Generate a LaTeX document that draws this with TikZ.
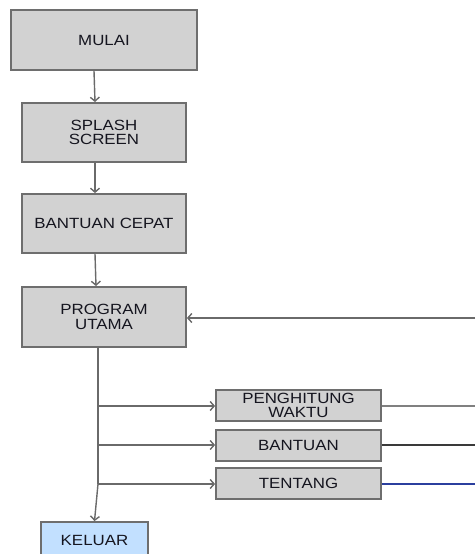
\documentclass[tikz,border=0pt]{standalone}
\usepackage{fontspec}
\setmainfont[FakeStretch=1.14]{Liberation Sans}
\usetikzlibrary{arrows.meta}
\definecolor{boxfill}{HTML}{D2D2D2}
\definecolor{boxline}{HTML}{6E6E6E}
\definecolor{conn}{HTML}{6A6A6A}
\definecolor{txt}{HTML}{15151F}
\definecolor{exitfill}{HTML}{C2E0FF}
\definecolor{darkln}{HTML}{3A3A3A}
\definecolor{blueln}{HTML}{2B3F9E}
\begin{document}
\begin{tikzpicture}[x=1pt,y=-1pt,
  box/.style={draw=boxline,fill=boxfill,line width=1.8pt,inner sep=0pt,align=center,
    text=txt,font=\fontsize{14.8}{14.5}\selectfont},
  conn/.style={draw=conn,line width=1.4pt},
  arr/.style={conn,-{Straight Barb[length=4pt,width=9pt]}}]
\useasboundingbox (0,0) rectangle (475,554);
\clip (0,0) rectangle (475,554);
\node[box,minimum width=186pt,minimum height=60pt] (mulai) at (104,40) {MULAI};
\node[box,minimum width=164pt,minimum height=59pt] (splash) at (104,132.5) {SPLASH\\SCREEN};
\node[box,minimum width=164pt,minimum height=59pt] (cepat) at (104,223.5) {BANTUAN CEPAT};
\node[box,minimum width=164pt,minimum height=60pt] (prog) at (104,317) {PROGRAM\\UTAMA};
\node[box,minimum width=165pt,minimum height=31pt] (pw) at (298.5,405.5) {PENGHITUNG\\WAKTU};
\node[box,minimum width=165pt,minimum height=31pt] (bantuan) at (298.5,445.5) {BANTUAN};
\node[box,minimum width=165pt,minimum height=31pt] (tentang) at (298.5,483.5) {TENTANG};
\node[box,fill=exitfill,minimum width=107pt,minimum height=38pt] (keluar) at (94.5,541) {\raisebox{1.5pt}{KELUAR}};
\coordinate (j1) at (98,406);
\coordinate (j2) at (98,445);
\coordinate (j3) at (98,484);
\coordinate (r0) at (475,318);
\coordinate (r1) at (475,406);
\coordinate (r2) at (475,445);
\coordinate (r3) at (475,484);
\draw[arr] ([xshift=-10pt]mulai.south) -- ([xshift=-9pt]splash.north);
\draw[arr] ([xshift=-9pt]splash.south) -- ([xshift=-9pt]cepat.north);
\draw[arr] ([xshift=-9pt]cepat.south) -- ([xshift=-8pt]prog.north);
\draw[conn] ([xshift=-6pt]prog.south) -- (j3);
\draw[arr] (j3) -- (keluar.north);
\draw[arr] (j1) -- (pw.west |- j1);
\draw[arr] (j2) -- (bantuan.west |- j2);
\draw[arr] (j3) -- (tentang.west |- j3);
\draw[arr] (r0) -- (prog.east |- r0);
\draw[conn,draw=conn!85] (pw.east |- r1) -- (r1);
\draw[line width=1.1pt,draw=darkln] (bantuan.east |- r2) -- (r2);
\draw[line width=1.4pt,draw=blueln] (tentang.east |- r3) -- (r3);
\end{tikzpicture}
\end{document}
